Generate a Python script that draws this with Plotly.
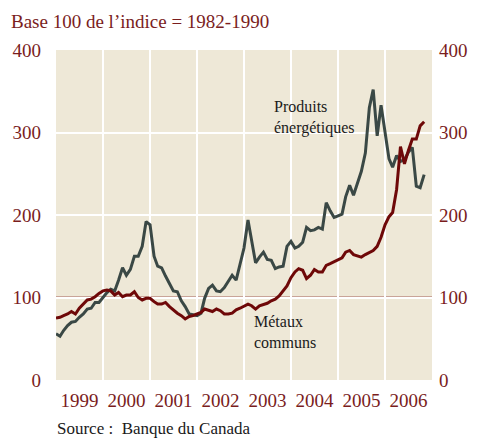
import pandas as pd
import plotly.graph_objects as go

# Monthly indices, Jan 1999 .. Nov 2006 (base 100 = 1982-1990)
months = pd.date_range("1999-01-01", periods=95, freq="MS")

energy = [56, 53, 60, 66, 70, 71, 76, 80, 86, 87, 94, 94,
          100, 106, 110, 108, 121, 136, 127, 134, 150, 150, 162, 192,
          188, 150, 138, 136, 126, 117, 108, 107, 96, 89, 80, 79,
          78, 81, 99, 111, 115, 108, 107, 112, 120, 127, 121, 139,
          160, 194, 168, 142, 149, 155, 146, 145, 135, 137, 138, 162,
          168, 160, 162, 167, 185, 181, 182, 185, 183, 215, 205, 197,
          199, 201, 222, 236, 224, 240, 253, 275, 330, 352, 296, 333,
          300, 268, 258, 272, 265, 267, 276, 282, 235, 233, 249]

metals = [75, 76, 78, 80, 83, 80, 87, 92, 97, 98, 101, 105,
          108, 109, 108, 103, 106, 101, 103, 103, 107, 100, 97, 99,
          99, 95, 92, 92, 94, 89, 85, 81, 78, 74, 77, 78,
          80, 82, 86, 84, 83, 86, 84, 80, 80, 81, 85, 87,
          90, 92, 90, 86, 90, 92, 93, 96, 98, 102, 108, 114,
          124, 131, 135, 133, 123, 127, 134, 131, 131, 139, 141, 143,
          145, 148, 155, 157, 152, 150, 149, 152, 155, 157, 162, 173,
          188, 198, 203, 231, 283, 262, 278, 292, 292, 308, 313]

base_level = 100
y_ticks = [0, 100, 200, 300, 400]

RED = "#7a1d1d"
SERIF = "Liberation Serif"

fig = go.Figure()
# invisible copy on the right-hand axis so that the mirrored scale is drawn
fig.add_trace(go.Scatter(x=months, y=metals, mode="lines", yaxis="y2",
                         line=dict(color="rgba(0,0,0,0)", width=0),
                         hoverinfo="skip", showlegend=False))
fig.add_trace(go.Scatter(x=months, y=energy, mode="lines",
                         line=dict(color="#3a4845", width=3),
                         name="Produits énergétiques", showlegend=False))
fig.add_trace(go.Scatter(x=months, y=metals, mode="lines",
                         line=dict(color="#6e0808", width=3),
                         name="Métaux communs", showlegend=False))

fig.add_shape(type="line", xref="paper", x0=0, x1=1, yref="y",
              y0=base_level, y1=base_level, layer="between",
              line=dict(color="#a4605a", width=2))

# page body has an 8px margin, so the figure is 8px smaller and shifted
fig.update_layout(
    width=469, height=430,
    margin=dict(l=48, r=45, t=42, b=58, autoexpand=False),
    paper_bgcolor="white", plot_bgcolor="#eee8d7",
    font=dict(family=SERIF, color=RED, size=19),
    xaxis=dict(type="date", range=["1999-01-01", "2007-01-01"],
               dtick="M12", tick0="1999-01-01", ticklabelmode="period",
               tickformat="%Y", showgrid=True, gridcolor="white",
               gridwidth=2, zeroline=False, ticks="", showline=False,
               automargin=False,
               ticklabelstandoff=7, tickfont=dict(size=19, color=RED)),
    yaxis=dict(range=[0, 400], tickvals=y_ticks, showgrid=True,
               gridcolor="white", gridwidth=2, zeroline=False, ticks="",
               automargin=False,
               ticklabelstandoff=14, tickfont=dict(size=19, color=RED)),
    yaxis2=dict(range=[0, 400], tickvals=y_ticks, overlaying="y",
                side="right", showgrid=False, zeroline=False, ticks="",
                automargin=False,
                ticklabelstandoff=6, tickfont=dict(size=19, color=RED)),
)

fig.add_annotation(text="Base 100 de l’indice = 1982-1990",
                   xref="paper", yref="paper", x=-0.125, y=1.085,
                   xanchor="left", yanchor="middle", showarrow=False,
                   font=dict(family=SERIF, size=19, color=RED))
fig.add_annotation(text="Source :  Banque du Canada",
                   xref="paper", yref="paper", x=-0.003, y=-0.148,
                   xanchor="left", yanchor="middle", showarrow=False,
                   font=dict(family=SERIF, size=17, color="#1a1a1a"))
fig.add_annotation(text="Produits<br>énergétiques",
                   xref="paper", yref="paper", x=0.574, y=0.795,
                   xanchor="left", yanchor="middle", align="left",
                   showarrow=False,
                   font=dict(family=SERIF, size=16, color="#1a1a1a"))
fig.add_annotation(text="Métaux<br>communs",
                   xref="paper", yref="paper", x=0.52, y=0.145,
                   xanchor="left", yanchor="middle", align="left",
                   showarrow=False,
                   font=dict(family=SERIF, size=16, color="#1a1a1a"))

fig.write_html("out.html")
